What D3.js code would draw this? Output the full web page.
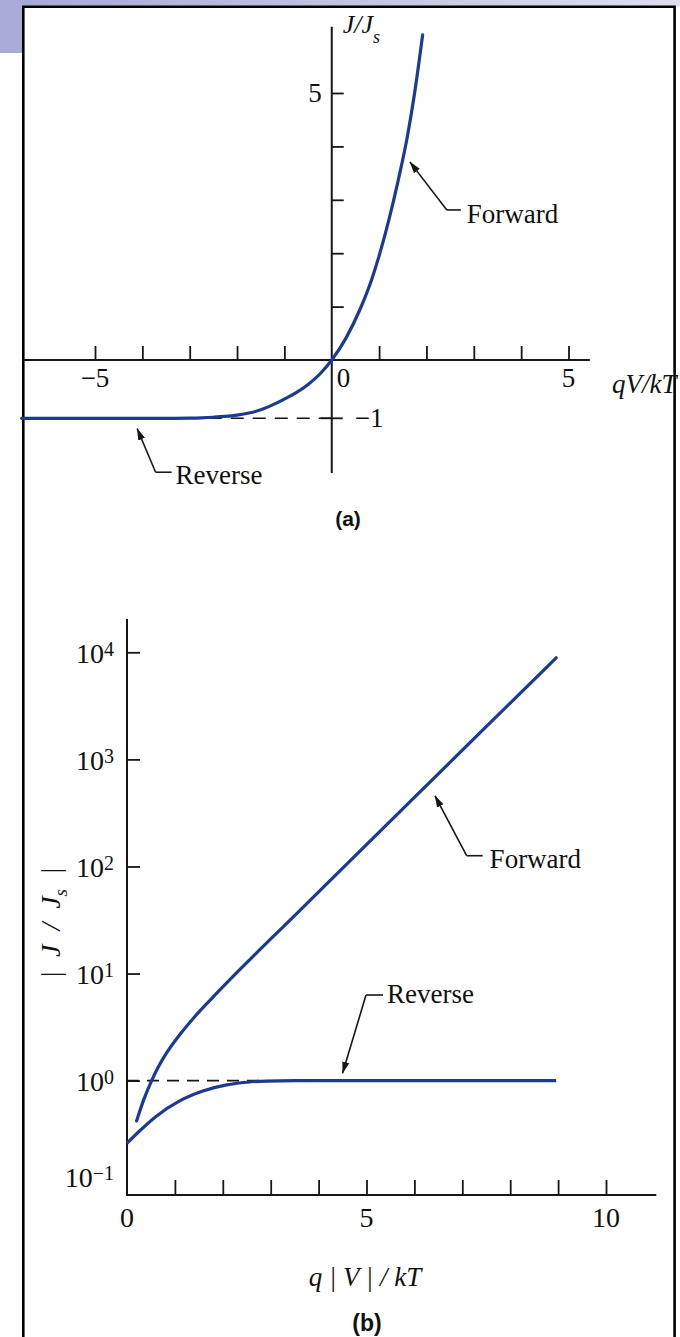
<!DOCTYPE html>
<html>
<head>
<meta charset="utf-8">
<script src="https://cdn.jsdelivr.net/npm/d3@7"></script>
<style>
  html, body { margin: 0; padding: 0; background: #fff; }
  svg { display: block; }
  text { font-family: "Liberation Serif", "Times New Roman", serif; fill: #111; }
  text.panel { font-family: "Liberation Sans", Arial, sans-serif; font-weight: bold; }
</style>
</head>
<body>
<svg id="fig" width="680" height="1337"></svg>
<script>
// ---------- Panel (a): linear J/Js versus qV/kT ----------
const curveA_v = [-6.55, -5, -3.5, -3.0, -2.75, -2.5, -2.25, -2.0, -1.75, -1.5, -1.25, -1.0, -0.75, -0.5, -0.25, 0,
                  0.3, 0.6, 0.84, 1.0, 1.2, 1.4, 1.6, 1.75, 1.92];
const curveA_J = [-1, -1, -1, -0.997, -0.992, -0.982, -0.968, -0.945, -0.91, -0.855, -0.77, -0.67, -0.56, -0.42, -0.24, 0,
                  0.41, 0.955, 1.5, 1.95, 2.6, 3.35, 4.2, 5.0, 6.09];
const ticksA_x = [-5, -4, -3, -2, -1, 1, 2, 3, 4, 5];
const ticksA_y = [1, 2, 3, 4, 5];
const labelsA_x = [-5, 5];

// ---------- Panel (b): semilog |J/Js| versus q|V|/kT ----------
const fwdB_v = [0.2, 0.35, 0.515, 0.65, 0.8, 1.1, 1.4, 1.8, 2.4, 3.5, 5.0, 6.5, 8.0, 8.96];
const fwdB_J = [0.42, 0.664, 1.0, 1.33, 1.74, 2.68, 3.89, 6.05, 11.4, 34.8, 160, 733, 3357, 8890];
const revB_v = [0, 0.25, 0.6, 1.1, 1.6, 2.08, 2.5, 2.92, 3.5, 4.5, 8.96];
const revB_J = [0.26, 0.335, 0.461, 0.646, 0.803, 0.912, 0.966, 0.991, 1.0, 1.0, 1.0];
const ticksB_x = [1, 2, 3, 4, 5, 6, 7, 8, 9, 10];
const labelsB_x = [0, 5, 10];
const decadesB = [-1, 0, 1, 2, 3, 4];

const svg = d3.select("#fig");
const BLUE = "#1a3a94";
const INK = "#161616";

// ---------- page frame and header band ----------
const defs = svg.append("defs");
const grad = defs.append("linearGradient").attr("id", "band").attr("x1", "0").attr("x2", "1");
grad.append("stop").attr("offset", "0").attr("stop-color", "#a5a7d4");
grad.append("stop").attr("offset", "1").attr("stop-color", "#dedeef");
svg.append("rect").attr("x", 0).attr("y", 0).attr("width", 680).attr("height", 6.5).attr("fill", "url(#band)");
svg.append("rect").attr("x", 0).attr("y", 0).attr("width", 22).attr("height", 53).attr("fill", "#a9aad6");
svg.append("path")
  .attr("d", "M23.3,1340 V6.8 H674.6 V1340")
  .attr("fill", "none").attr("stroke", "#000").attr("stroke-width", 2.6);

defs.append("marker").attr("id", "tip")
  .attr("viewBox", "0 -4 12 8").attr("refX", 11.5).attr("refY", 0)
  .attr("markerWidth", 12).attr("markerHeight", 8)
  .attr("markerUnits", "userSpaceOnUse").attr("orient", "auto")
  .append("path").attr("d", "M0,-3.6 L12,0 L0,3.6 Z").attr("fill", INK);

function leader(g, tip, bend, hx) {
  g.append("path").attr("d", `M${hx},${bend[1]} H${bend[0]}`)
    .attr("stroke", INK).attr("stroke-width", 1.6).attr("fill", "none");
  g.append("line").attr("x1", bend[0]).attr("y1", bend[1]).attr("x2", tip[0]).attr("y2", tip[1])
    .attr("stroke", INK).attr("stroke-width", 1.6).attr("marker-end", "url(#tip)");
}

// =====================  (a)  =====================
const xA = d3.scaleLinear().domain([-5, 5]).range([95, 568.5]);
const yA = d3.scaleLinear().domain([-1, 0, 5]).range([418.3, 360, 93]);
const gA = svg.append("g");
const x0A = xA(0), y0A = yA(0);

// reference level J/Js = -1
gA.append("line").attr("x1", x0A).attr("x2", 23).attr("y1", yA(-1)).attr("y2", yA(-1))
  .attr("stroke", INK).attr("stroke-width", 1.6).attr("stroke-dasharray", "13,9");

// axes
gA.append("line").attr("x1", 23).attr("x2", xA(5.45)).attr("y1", y0A).attr("y2", y0A)
  .attr("stroke", INK).attr("stroke-width", 2);
gA.append("line").attr("x1", x0A).attr("x2", x0A).attr("y1", yA(6.24)).attr("y2", yA(-1.94))
  .attr("stroke", INK).attr("stroke-width", 2);

// x ticks pointing up
const axA = d3.axisBottom(xA).tickValues(ticksA_x).tickSize(-14).tickFormat("");
const gAx = gA.append("g").attr("transform", `translate(0,${y0A})`).call(axA);
gAx.select(".domain").remove();
gAx.selectAll(".tick line").attr("stroke", INK).attr("stroke-width", 1.8);

// y ticks pointing right
const ayA = d3.axisLeft(yA).tickValues(ticksA_y).tickSize(-12).tickFormat("");
const gAy = gA.append("g").attr("transform", `translate(${x0A},0)`).call(ayA);
gAy.select(".domain").remove();
gAy.selectAll(".tick line").attr("stroke", INK).attr("stroke-width", 1.8);
gA.append("line").attr("x1", x0A - 11).attr("x2", x0A + 11).attr("y1", yA(-1)).attr("y2", yA(-1))
  .attr("stroke", INK).attr("stroke-width", 1.8);

// tick labels
gA.selectAll(".xl").data(labelsA_x).join("text")
  .attr("x", d => xA(d)).attr("y", y0A + 27).attr("text-anchor", "middle")
  .attr("font-size", 27).text(d => d < 0 ? "\u2212" + Math.abs(d) : d);
gA.append("text").attr("x", x0A + 5).attr("y", y0A + 27).attr("font-size", 27).text("0");
gA.append("text").attr("x", x0A - 10).attr("y", yA(5) + 9).attr("text-anchor", "end").attr("font-size", 27).text("5");
gA.append("text").attr("x", x0A + 23).attr("y", yA(-1) + 9).attr("font-size", 27).text("\u22121");

// axis titles
const tA = gA.append("text").attr("x", x0A + 11).attr("y", 33).attr("font-size", 26).attr("font-style", "italic");
tA.append("tspan").text("J/J");
tA.append("tspan").attr("dy", 10).attr("font-size", 18).text("s");
gA.append("text").attr("x", 612).attr("y", 393).attr("font-size", 27).attr("font-style", "italic").text("qV/kT");

// curve
const lineA = d3.line().x(d => xA(d[0])).y(d => yA(d[1])).curve(d3.curveMonotoneX);
gA.append("path").datum(d3.zip(curveA_v, curveA_J)).attr("d", lineA)
  .attr("fill", "none").attr("stroke", BLUE).attr("stroke-width", 3.2).attr("stroke-linecap", "round");

// annotations
leader(gA, [xA(1.65), yA(3.71)], [xA(2.43), yA(2.81)], xA(2.43) + 14);
gA.append("text").attr("x", xA(2.43) + 20).attr("y", yA(2.81) + 13).attr("font-size", 27).text("Forward");
leader(gA, [xA(-4.11), yA(-1.176)], [xA(-3.72), yA(-1.925)], xA(-3.72) + 16);
gA.append("text").attr("x", xA(-3.72) + 20).attr("y", yA(-1.925) + 12).attr("font-size", 27).text("Reverse");

gA.append("text").attr("class", "panel").attr("x", 348).attr("y", 526).attr("text-anchor", "middle")
  .attr("font-size", 21).text("(a)");

// =====================  (b)  =====================
const xB = d3.scaleLinear().domain([0, 10]).range([127, 606]);
const yB = d3.scaleLog().domain([0.1, 1e4]).range([1187.7, 652.3]);
const gB = svg.append("g");
const x0B = xB(0), axisYB = 1195;

// reference level |J/Js| = 1
gB.append("line").attr("x1", x0B).attr("x2", xB(2.93)).attr("y1", yB(1)).attr("y2", yB(1))
  .attr("stroke", INK).attr("stroke-width", 1.6).attr("stroke-dasharray", "12,8");

// axes
gB.append("line").attr("x1", x0B).attr("x2", x0B).attr("y1", yB(2.05e4)).attr("y2", axisYB)
  .attr("stroke", INK).attr("stroke-width", 2);
gB.append("line").attr("x1", x0B - 1).attr("x2", xB(11.05)).attr("y1", axisYB).attr("y2", axisYB)
  .attr("stroke", INK).attr("stroke-width", 2);

const axB = d3.axisBottom(xB).tickValues(ticksB_x).tickSize(-15).tickFormat("");
const gBx = gB.append("g").attr("transform", `translate(0,${axisYB})`).call(axB);
gBx.select(".domain").remove();
gBx.selectAll(".tick line").attr("stroke", INK).attr("stroke-width", 1.8);

const ayB = d3.axisLeft(yB).tickValues(decadesB.filter(k => k >= 0).map(k => Math.pow(10, k)))
  .tickSize(-13).tickFormat("");
const gBy = gB.append("g").attr("transform", `translate(${x0B},0)`).call(ayB);
gBy.select(".domain").remove();
gBy.selectAll(".tick line").attr("stroke", INK).attr("stroke-width", 1.8);

// decade labels
decadesB.forEach(k => {
  const base = yB(Math.pow(10, k)) + (k < 0 ? -1 : 10.7);
  const t = gB.append("text").attr("x", 114).attr("y", base).attr("text-anchor", "end").attr("font-size", 28);
  t.append("tspan").text("10");
  t.append("tspan").attr("dy", -7).attr("font-size", 20).text(k < 0 ? "\u2212" + Math.abs(k) : String(k));
});
gB.selectAll(".xl").data(labelsB_x).join("text")
  .attr("x", d => xB(d)).attr("y", 1227).attr("text-anchor", "middle").attr("font-size", 28).text(d => d);

// axis titles
gB.append("text").attr("x", 365).attr("y", 1286).attr("text-anchor", "middle")
  .attr("font-size", 27).attr("font-style", "italic").attr("xml:space", "preserve")
  .text("q | V | / kT");
const tB = gB.append("text").attr("transform", "translate(60,923) rotate(-90)")
  .attr("text-anchor", "middle").attr("font-size", 28).attr("font-style", "italic")
  .attr("xml:space", "preserve");
tB.append("tspan").text("|  J  /  J");
tB.append("tspan").attr("dy", 7).attr("font-size", 19).text("s");
tB.append("tspan").attr("dy", -7).text("  |");

// curves
const lineB = d3.line().x(d => xB(d[0])).y(d => yB(d[1])).curve(d3.curveMonotoneX);
gB.append("path").datum(d3.zip(fwdB_v, fwdB_J)).attr("d", lineB)
  .attr("fill", "none").attr("stroke", BLUE).attr("stroke-width", 3.2).attr("stroke-linecap", "round");
gB.append("path").datum(d3.zip(revB_v, revB_J)).attr("d", lineB)
  .attr("fill", "none").attr("stroke", BLUE).attr("stroke-width", 3.2).attr("stroke-linecap", "butt");

// annotations
leader(gB, [xB(6.43), yB(457)], [xB(7.09), yB(126)], xB(7.09) + 16);
gB.append("text").attr("x", xB(7.09) + 23).attr("y", yB(126) + 12).attr("font-size", 27).text("Forward");
leader(gB, [xB(4.5), yB(1.17)], [xB(4.99), yB(6.3)], xB(4.99) + 17);
gB.append("text").attr("x", xB(4.99) + 21).attr("y", yB(6.3) + 8).attr("font-size", 27).text("Reverse");

gB.append("text").attr("class", "panel").attr("x", 367).attr("y", 1331).attr("text-anchor", "middle")
  .attr("font-size", 23).text("(b)");
</script>
</body>
</html>
